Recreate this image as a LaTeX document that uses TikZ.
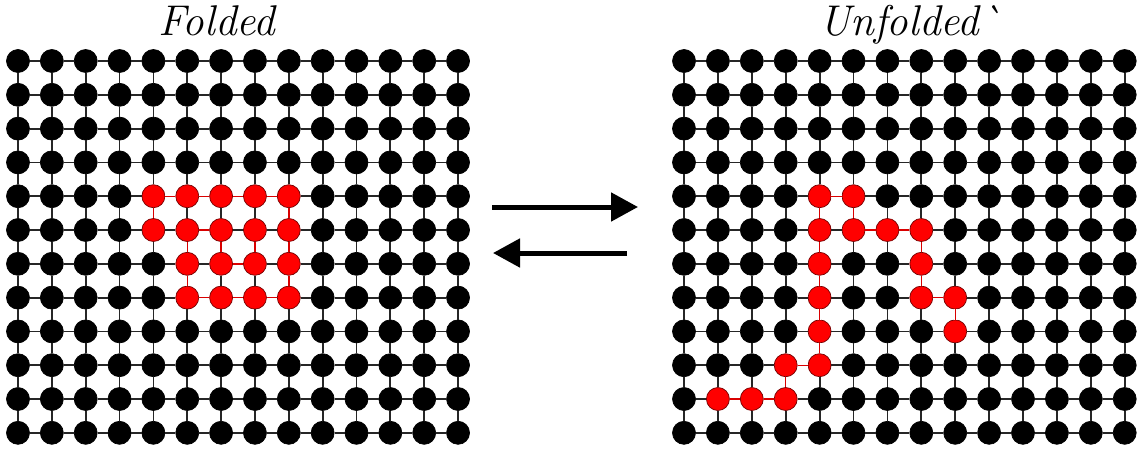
\documentclass[tikz,border=0pt]{standalone}
\usetikzlibrary{arrows.meta}
\begin{document}
\begin{tikzpicture}[x=1pt,y=-1pt,
  dot/.style={circle,inner sep=0pt,minimum size=23pt,fill=\dotcol,draw=\dotrim,line width=0.7pt},
  gridline/.style={line width=1.8pt,black!85},
  chainline/.style={preaction={draw=white,line width=2.8pt},draw=red!85!black,line width=1.4pt},
  swaparrow/.style={line width=5pt,-{Triangle[length=27pt,width=28pt]}},
  title/.style={font=\fontsize{43}{46}\selectfont\itshape,anchor=base,inner sep=0pt}]

% canvas
\fill[white] (0,0) rectangle (1146,453);
\useasboundingbox (0,0) rectangle (1146,453);

% residues of the chain on each lattice (row-column)
\def\foldchain{5-4,4-4,4-5,4-6,4-7,4-8,5-8,6-8,7-8,7-7,7-6,7-5,6-5,5-5,5-6,6-6,6-7,5-7}
\def\openchain{10-1,10-2,10-3,9-3,9-4,8-4,7-4,6-4,5-4,4-4,4-5,5-5,5-6,5-7,6-7,7-7,7-8,8-8}
\foreach \p in \foldchain {\expandafter\gdef\csname on-L-\p\endcsname{}}
\foreach \p in \openchain {\expandafter\gdef\csname on-R-\p\endcsname{}}

% lattice sites
\foreach \g/\xo/\dx in {L/18/33.85,R/684/33.9} {
  \foreach \r in {0,...,11} {
    \foreach \c in {0,...,13} {
      \ifcsname on-\g-\r-\c\endcsname
        \gdef\dotcol{red}\gdef\dotrim{red!45!black}%
      \else
        \gdef\dotcol{black}\gdef\dotrim{black}%
      \fi
      \node[dot] (\g-\r-\c) at ({\xo+\dx*\c},{61+33.8*\r}) {};
    }
  }
}

% lattice bonds: along rows
\foreach \g in {L,R} {
  \foreach \r in {0,...,11} {
    \foreach \c [count=\n from 1] in {0,...,12} {
      \draw[gridline] (\g-\r-\c) -- (\g-\r-\n);
    }
  }
}
% lattice bonds: along columns
\foreach \g in {L,R} {
  \foreach \r [count=\n from 1] in {0,...,10} {
    \foreach \c in {0,...,13} {
      \draw[gridline] (\g-\r-\c) -- (\g-\n-\c);
    }
  }
}

% chain backbones
\draw[chainline] (L-5-4) -- (L-4-4) -- (L-4-5) -- (L-4-6) -- (L-4-7) -- (L-4-8)
  -- (L-5-8) -- (L-6-8) -- (L-7-8) -- (L-7-7) -- (L-7-6) -- (L-7-5) -- (L-6-5)
  -- (L-5-5) -- (L-5-6) -- (L-6-6) -- (L-6-7) -- (L-5-7);
\draw[chainline] (R-10-1) -- (R-10-2) -- (R-10-3) -- (R-9-3) -- (R-9-4) -- (R-8-4)
  -- (R-7-4) -- (R-6-4) -- (R-5-4) -- (R-4-4) -- (R-4-5) -- (R-5-5) -- (R-5-6)
  -- (R-5-7) -- (R-6-7) -- (R-7-7) -- (R-7-8) -- (R-8-8);

% equilibrium arrows
\coordinate (fwdA) at (492,207);
\coordinate (fwdB) at (638,207);
\coordinate (revA) at (627,253);
\coordinate (revB) at (493,253);
\draw[swaparrow] (fwdA) -- (fwdB);
\draw[swaparrow] (revA) -- (revB);

% headings
\node[title] (tfold) at (217,35) {Folded};
\node[title] (tunfold) at (910,35) {Unfolded\textasciigrave};
\end{tikzpicture}
\end{document}
